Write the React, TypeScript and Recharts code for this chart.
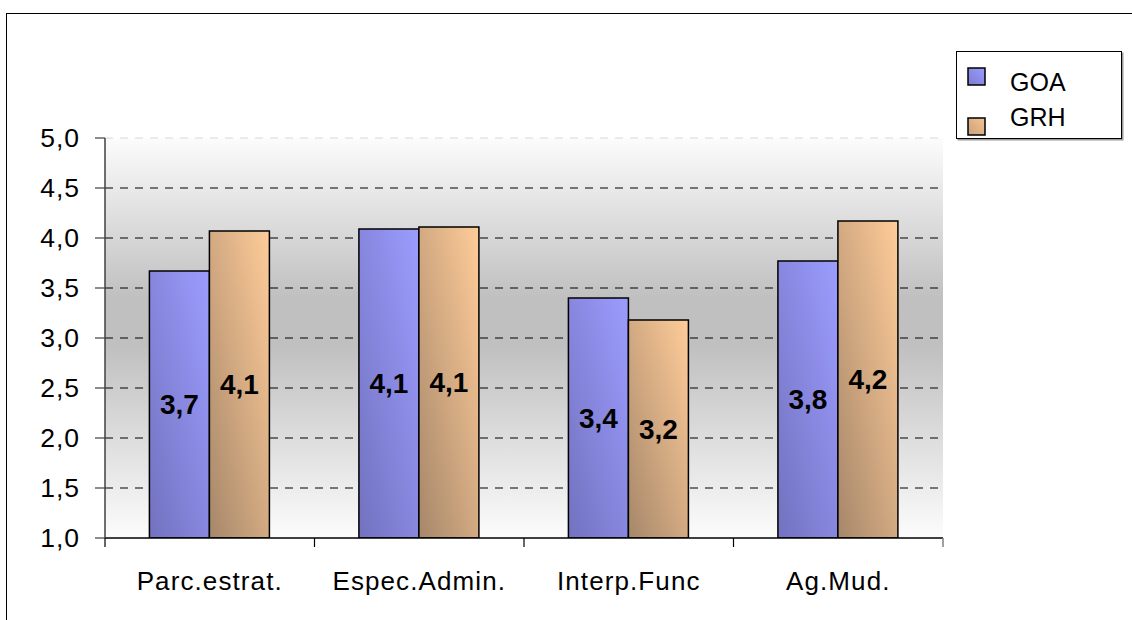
import React from 'react';
import {
  BarChart,
  Bar,
  XAxis,
  YAxis,
  CartesianGrid,
  LabelList,
} from 'recharts';

// Survey dimensions and mean scores per group
const categories = ['Parc.estrat.', 'Espec.Admin.', 'Interp.Func', 'Ag.Mud.'];
const goaValues = [3.67, 4.09, 3.4, 3.77];
const grhValues = [4.07, 4.11, 3.18, 4.17];
const seriesNames = ['GOA', 'GRH'];
const yTicks = [1, 1.5, 2, 2.5, 3, 3.5, 4, 4.5, 5];
const yDomain: [number, number] = [1, 5];

const data = categories.map((name, i) => ({
  name,
  goa: goaValues[i],
  grh: grhValues[i],
}));

const W = 1132;
const H = 620;
const FONT = '"Liberation Sans", Arial, Helvetica, sans-serif';

const fmt = (v: number) => Number(v).toFixed(1).replace('.', ',');

// Pixel rows for grid lines, taken from the y-axis scale
const gridRows = (values: number[]) => (props: any) => {
  const yAxis = props?.yAxis;
  const off = props?.offset;
  return values.map((v) => {
    if (yAxis && typeof yAxis.scale === 'function') return yAxis.scale(v);
    const top = off?.top ?? 0;
    const h = off?.height ?? 0;
    return top + (h * (yDomain[1] - v)) / (yDomain[1] - yDomain[0]);
  });
};

// Category label plus boundary tick marks between categories
const CategoryTick = (props: any) => {
  const { x, y, payload, index, width, visibleTicksCount } = props;
  const count = visibleTicksCount || categories.length;
  const band = (width || 0) / count;
  const tickLen = 9;
  return (
    <g>
      <line
        x1={x - band / 2}
        x2={x - band / 2}
        y1={y - tickLen}
        y2={y}
        stroke="#000"
        strokeWidth={1.2}
      />
      {index === count - 1 && (
        <line
          x1={x + band / 2}
          x2={x + band / 2}
          y1={y - tickLen}
          y2={y}
          stroke="#808080"
          strokeWidth={1.5}
        />
      )}
      <text
        x={x}
        y={y + 43}
        textAnchor="middle"
        fill="#000"
        fontFamily={FONT}
        fontSize={26}
        letterSpacing={1.1}
      >
        {payload.value}
      </text>
    </g>
  );
};

export default function App() {
  return (
    <div
      style={{
        position: 'absolute',
        left: 0,
        top: 0,
        width: W,
        height: H,
        overflow: 'hidden',
        background: '#fff',
        fontFamily: FONT,
      }}
    >
      {/* outer frame */}
      <div
        style={{
          position: 'absolute',
          left: 6,
          top: 13,
          width: 1200,
          height: 800,
          borderLeft: '1.5px solid #000',
          borderTop: '1.5px solid #000',
        }}
      />
      <BarChart
        width={W}
        height={H}
        data={data}
        margin={{ top: 138, right: 189, bottom: 22, left: 0 }}
        barCategoryGap="21.2%"
        barGap={0}
        style={{ position: 'absolute', left: 0, top: 0 }}
      >
        <defs>
          <linearGradient id="plotBg" x1="0" y1="0" x2="0" y2="1">
            <stop offset="0" stopColor="#fcfcfc" />
            <stop offset="0.4" stopColor="#c0c0c0" />
            <stop offset="0.52" stopColor="#c0c0c0" />
            <stop offset="1" stopColor="#fcfcfc" />
          </linearGradient>
          <linearGradient id="goaFill" x1="0" y1="1" x2="1" y2="0">
            <stop offset="0" stopColor="#7272bf" />
            <stop offset="1" stopColor="#9c9cff" />
          </linearGradient>
          <linearGradient id="grhFill" x1="0" y1="1" x2="1" y2="0">
            <stop offset="0" stopColor="#a6876a" />
            <stop offset="1" stopColor="#ffcc99" />
          </linearGradient>
        </defs>
        <CartesianGrid
          fill="url(#plotBg)"
          vertical={false}
          stroke="#000"
          strokeWidth={1.2}
          strokeDasharray="8 7"
          horizontalCoordinatesGenerator={gridRows(yTicks.slice(1, -1))}
        />
        <CartesianGrid
          vertical={false}
          stroke="#d8d8d8"
          strokeDasharray="8 7"
          horizontalCoordinatesGenerator={gridRows([yTicks[yTicks.length - 1]])}
        />
        <XAxis
          dataKey="name"
          height={60}
          interval={0}
          axisLine={{ stroke: '#000', strokeWidth: 1.5 }}
          tickLine={false}
          tickSize={9}
          tickMargin={0}
          tick={<CategoryTick />}
        />
        <YAxis
          width={105}
          domain={yDomain}
          ticks={yTicks}
          interval={0}
          allowDataOverflow
          tickFormatter={fmt}
          axisLine={{ stroke: '#404040', strokeWidth: 1.5 }}
          tickLine={{ stroke: '#404040', strokeWidth: 1.2 }}
          tickSize={10}
          tickMargin={15}
          tick={{
            fill: '#000',
            fontSize: 26.5,
            fontFamily: FONT,
            letterSpacing: 1,
          }}
        />
        <Bar
          dataKey="goa"
          name={seriesNames[0]}
          fill="url(#goaFill)"
          stroke="#000"
          strokeWidth={1.5}
          isAnimationActive={false}
        >
          <LabelList
            dataKey="goa"
            position="center"
            formatter={(v: any) => fmt(v)}
            fill="#000"
            fontSize={28}
            fontWeight="bold"
            fontFamily={FONT}
          />
        </Bar>
        <Bar
          dataKey="grh"
          name={seriesNames[1]}
          fill="url(#grhFill)"
          stroke="#000"
          strokeWidth={1.5}
          isAnimationActive={false}
        >
          <LabelList
            dataKey="grh"
            position="center"
            formatter={(v: any) => fmt(v)}
            fill="#000"
            fontSize={28}
            fontWeight="bold"
            fontFamily={FONT}
          />
        </Bar>
      </BarChart>
      {/* legend */}
      <div
        style={{
          position: 'absolute',
          left: 956,
          top: 51,
          width: 164,
          height: 86,
          border: '1.5px solid #000',
          boxShadow: '1.5px 1.5px 0 #9a9a9a',
          background: '#fff',
        }}
      >
        {seriesNames.map((s, i) => (
          <div
            key={s}
            style={{
              position: 'absolute',
              left: 10,
              top: 15 + i * 45,
              height: 20,
              display: 'flex',
              alignItems: 'flex-start',
            }}
          >
            <svg width={19} height={19} style={{ marginTop: i === 0 ? 0 : 5 }}>
              <defs>
                <linearGradient id={`sw${i}`} x1="0" y1="1" x2="1" y2="0">
                  <stop offset="0" stopColor={i === 0 ? '#7c7cd0' : '#c8a07a'} />
                  <stop offset="1" stopColor={i === 0 ? '#9c9cff' : '#f6c492'} />
                </linearGradient>
              </defs>
              <rect
                x={1}
                y={1}
                width={17}
                height={17}
                fill={`url(#sw${i})`}
                stroke="#000"
                strokeWidth={1.5}
              />
            </svg>
            <span
              style={{
                marginLeft: 24,
                fontSize: 25,
                lineHeight: '25px',
                marginTop: i === 0 ? 3 : -7,
                color: '#000',
              }}
            >
              {s}
            </span>
          </div>
        ))}
      </div>
    </div>
  );
}
